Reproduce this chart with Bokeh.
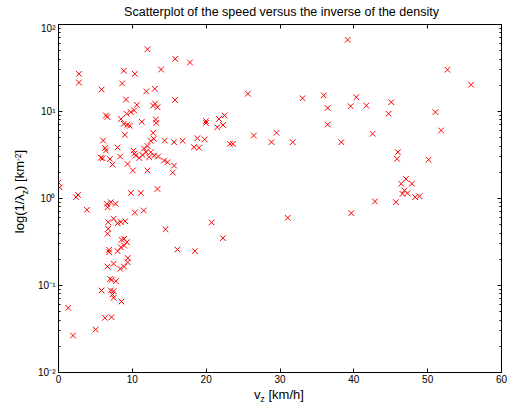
from bokeh.plotting import figure
from bokeh.models import (LinearAxis, LogAxis, FixedTicker, Label, Range1d,
                          CustomJSTickFormatter)
from bokeh.layouts import column, row
from bokeh.embed import file_html
from bokeh.resources import INLINE
import math

# ---------------- data ----------------
title_text = "Scatterplot of the speed versus the inverse of the density"
x_ticks = [0, 10, 20, 30, 40, 50, 60]
y_ticks = [0.01, 0.1, 1, 10, 100]

# low-speed group (below ~2 km^-2)
vz_low = [0.0, 0.16, 2.77, 2.77, 5.84, 2.64, 2.36, 3.85, 1.32, 1.96, 5.03, 6.28, 7.19,
          5.84, 7.09, 7.46, 7.32, 7.46, 8.54, 7.00, 7.19, 7.77, 6.65, 7.46, 8.35, 8.89,
          9.35, 9.39, 6.86, 6.86, 8.00, 8.45, 8.89, 8.54, 8.89, 9.26, 6.73, 7.46, 8.00,
          8.45, 9.03, 6.73, 6.65, 6.55, 7.09, 7.73, 6.65, 10.34, 11.55, 9.80, 11.15,
          13.41, 14.49, 16.11, 18.49, 20.74, 22.27]
inv_low = [1.53, 1.34, 27.1, 21.5, 17.9, 1.10, 1.035, 0.741, 0.0554, 0.0266, 0.0312,
           0.0425, 0.0432, 0.0876, 0.0876, 0.0860, 0.0788, 0.0722, 0.0655, 0.119, 0.116,
           0.112, 0.165, 0.178, 0.156, 0.165, 0.185, 0.207, 0.257, 0.241, 0.248, 0.275,
           0.288, 0.335, 0.344, 0.315, 0.534, 0.585, 0.520, 0.534, 0.548, 0.449, 0.393,
           0.869, 0.907, 0.869, 0.794, 0.690, 0.728, 1.157, 1.157, 1.286, 0.444, 0.259,
           0.248, 0.530, 0.350]

# dense middle group
vz_mid = [6.05, 6.32, 6.42, 5.74, 5.97, 6.96, 7.32, 8.00, 8.35, 9.35, 10.07, 10.16, 10.27,
          10.47, 10.95, 11.59, 12.05, 11.86, 11.38, 12.50, 12.91, 12.50, 12.27, 12.95,
          13.49, 12.05, 14.39, 15.65, 16.82, 14.30, 14.76, 15.65, 15.47, 18.81, 19.80,
          18.35, 19.03, 23.22, 23.62, 8.99, 12.81, 8.45, 8.85, 9.32, 9.66, 9.22, 9.80,
          10.24, 11.28, 13.18, 13.24, 6.42, 6.62, 9.16, 10.61, 12.81, 13.41, 13.08, 15.78,
          11.89, 13.04, 8.62, 8.85, 10.34, 12.05, 13.89, 15.81, 17.81, 19.97, 19.97, 21.51,
          21.73, 22.50, 22.27]
inv_mid = [4.64, 3.80, 3.56, 2.94, 2.90, 2.84, 2.46, 3.86, 3.04, 2.49, 2.10, 3.56, 3.29,
           3.12, 2.92, 3.76, 4.01, 3.41, 3.16, 4.58, 4.86, 3.41, 2.98, 3.12, 3.04, 2.10,
           4.64, 4.44, 4.61, 2.73, 2.61, 2.39, 1.99, 4.93, 4.77, 3.89, 3.83, 4.25, 4.25,
           5.40, 5.69, 8.20, 7.22, 7.00, 6.85, 9.41, 9.82, 10.3, 7.62, 8.09, 7.38, 9.00,
           8.65, 13.7, 11.9, 11.7, 11.2, 12.3, 13.6, 17.0, 18.2, 21.0, 29.4, 27.1, 52.0,
           30.4, 40.3, 36.6, 7.78, 7.38, 6.60, 8.20, 9.00, 7.00]

# high-speed group
vz_high = [39.16, 52.68, 55.88, 25.65, 33.04, 35.92, 36.46, 39.57, 40.34, 41.69, 45.07,
           44.70, 51.05, 51.82, 36.46, 42.54, 26.46, 28.85, 29.53, 31.73, 38.31, 45.97,
           45.84, 50.11, 47.05, 46.42, 47.86, 46.86, 46.59, 47.27, 48.31, 48.89, 45.70,
           42.86, 39.66, 31.05]
inv_high = [66.7, 30.2, 20.3, 16.0, 14.2, 15.3, 11.0, 11.5, 14.6, 11.7, 12.8, 9.41, 9.82,
            6.05, 7.09, 5.54, 5.30, 4.44, 5.69, 4.44, 4.44, 3.41, 2.86, 2.79, 1.68, 1.48,
            1.48, 1.24, 1.13, 1.15, 1.035, 1.06, 0.907, 0.924, 0.678, 0.600]

vz = vz_low + vz_mid + vz_high
inv = inv_low + inv_mid + inv_high

# ---------------- layout geometry (page pixels) ----------------
FONT = "Liberation Sans"
TOTAL_W = 510
TOP_H = 22          # strip holding the title
LEFT_W = 30         # strip holding the y label
FRAME_T, FRAME_B = 24, 372
FRAME_L, FRAME_R = 58, 501
MAIN_TOP_BORDER = FRAME_T - TOP_H
MAIN_BOT_BORDER = 14
MAIN_H = (FRAME_B - FRAME_T) + MAIN_TOP_BORDER + MAIN_BOT_BORDER
BOT_TOP = TOP_H + MAIN_H
BOT_H = 22
MID = 0.35          # distance from baseline to "middle", in font sizes


def strip(w, h):
    f = figure(width=w, height=h, x_range=Range1d(0, 1), y_range=Range1d(0, 1),
               output_backend="svg", toolbar_location=None, min_border=0,
               x_axis_location=None, y_axis_location=None)
    f.outline_line_color = None
    f.grid.visible = False
    f.background_fill_color = "white"
    f.border_fill_color = "white"
    return f


def lab(fig, x, y, txt, fs, angle=0.0):
    fig.add_layout(Label(x=x, y=y, x_units="screen", y_units="screen", text=txt,
                         angle=angle, text_align="center", text_baseline="middle",
                         text_font=FONT, text_font_size=f"{fs}px", text_color="black"))


# ---------------- main figure ----------------
p = figure(width=TOTAL_W - LEFT_W, height=MAIN_H,
           x_range=Range1d(x_ticks[0], x_ticks[-1]),
           y_range=Range1d(y_ticks[0], y_ticks[-1]), y_axis_type="log",
           output_backend="svg", toolbar_location=None,
           min_border_left=FRAME_L - LEFT_W, min_border_right=TOTAL_W - FRAME_R,
           min_border_top=MAIN_TOP_BORDER, min_border_bottom=MAIN_BOT_BORDER)
p.grid.visible = False
p.outline_line_color = "black"
p.background_fill_color = "white"
p.border_fill_color = "white"

p.scatter(vz, inv, marker="x", size=8, line_color="red", line_width=1)

emin = round(math.log10(y_ticks[0]))
emax = round(math.log10(y_ticks[-1]))
y_minor = [k * 10.0 ** e for e in range(emin, emax) for k in range(2, 10)]

sup_js = CustomJSTickFormatter(code="""
const m = {"-":"\\u207B","0":"\\u2070","1":"\\u00B9","2":"\\u00B2","3":"\\u00B3",
           "4":"\\u2074","5":"\\u2075","6":"\\u2076","7":"\\u2077","8":"\\u2078","9":"\\u2079"};
const e = Math.round(Math.log10(tick));
return "10" + String(e).split("").map(c => m[c]).join("");
""")


def style(ax, show):
    ax.axis_line_color = "black"
    ax.axis_line_width = 1
    ax.major_tick_in = 4
    ax.major_tick_out = 0
    ax.minor_tick_in = 2
    ax.minor_tick_out = 0
    ax.major_tick_line_color = "black"
    ax.minor_tick_line_color = "black"
    ax.major_label_text_font = FONT
    ax.major_label_text_color = "black"
    ax.major_label_text_font_size = "10px" if show else "1px"
    ax.major_label_standoff = 2 if show else 0


xb = p.xaxis[0]
xb.ticker = FixedTicker(ticks=x_ticks, minor_ticks=[])
style(xb, True)

yl = p.yaxis[0]
yl.ticker = FixedTicker(ticks=y_ticks, minor_ticks=y_minor)
yl.formatter = sup_js
style(yl, True)
yl.major_label_standoff = 3

# box axes (top / right): ticks only
xt = LinearAxis(ticker=FixedTicker(ticks=x_ticks, minor_ticks=[]))
style(xt, False)
xt.major_label_text_color = None
p.add_layout(xt, "above")

yr = LogAxis(ticker=FixedTicker(ticks=y_ticks, minor_ticks=y_minor))
style(yr, False)
yr.major_label_text_color = None
p.add_layout(yr, "right")

# ---------------- title strip ----------------
TITLE_FS = 12.5
t = strip(TOTAL_W, TOP_H)
title_base = 16.0
lab(t, (FRAME_L + FRAME_R) / 2 + 1.5, TOP_H - (title_base - MID * TITLE_FS), title_text,
    TITLE_FS)

BIG, SMALL = 13, 8.5
SPACE = 0.278 * BIG

# ---------------- x label strip: v_z [km/h] ----------------
b = strip(TOTAL_W, BOT_H)
xl_base = 398.5                         # page baseline
# (text, font size, advance in em, baseline shift down, gap after)
x_parts = [("v", BIG, 0.5, 0, 0), ("z", SMALL, 0.5, 3, SPACE), ("[km/h]", BIG, 2.723, 0, 0)]
total = sum(fs * em + g for _, fs, em, _, g in x_parts)
cx = (FRAME_L + FRAME_R) / 2 - 1 - total / 2
for txt, fs, em, dy, g in x_parts:
    w = fs * em
    page_mid = xl_base + dy - MID * fs
    lab(b, cx + w / 2, (BOT_TOP + BOT_H) - page_mid, txt, fs)
    cx += w + g

# ---------------- y label strip: log(1/λ_z) [km^-2] (reads upward) ----------------
lft = strip(LEFT_W, MAIN_H)
yl_base = 24.0                          # page x of the text baseline
y_parts = [("log(1/\u03bb", BIG, 3.001, 0, 0), ("z", SMALL, 0.5, 3, 0),
           (")", BIG, 0.333, 0, SPACE), ("[km", BIG, 1.611, 0, 0),
           ("-2", SMALL, 0.889, -3.5, 0), ("]", BIG, 0.278, 0, 0)]
total = sum(fs * em + g for _, fs, em, _, g in y_parts)
center_page_y = 205.0
py = center_page_y + total / 2          # page y of the label's start (bottom)
for txt, fs, em, dx, g in y_parts:
    w = fs * em
    page_mid_x = yl_base + dx - MID * fs
    mid_page_y = py - w / 2
    lab(lft, page_mid_x, (TOP_H + MAIN_H) - mid_page_y, txt, fs, angle=math.pi / 2)
    py -= w + g

layout = column(t, row(lft, p, spacing=0), b, spacing=0)

with open("out.html", "w", encoding="utf-8") as f:
    f.write(file_html(layout, INLINE))
